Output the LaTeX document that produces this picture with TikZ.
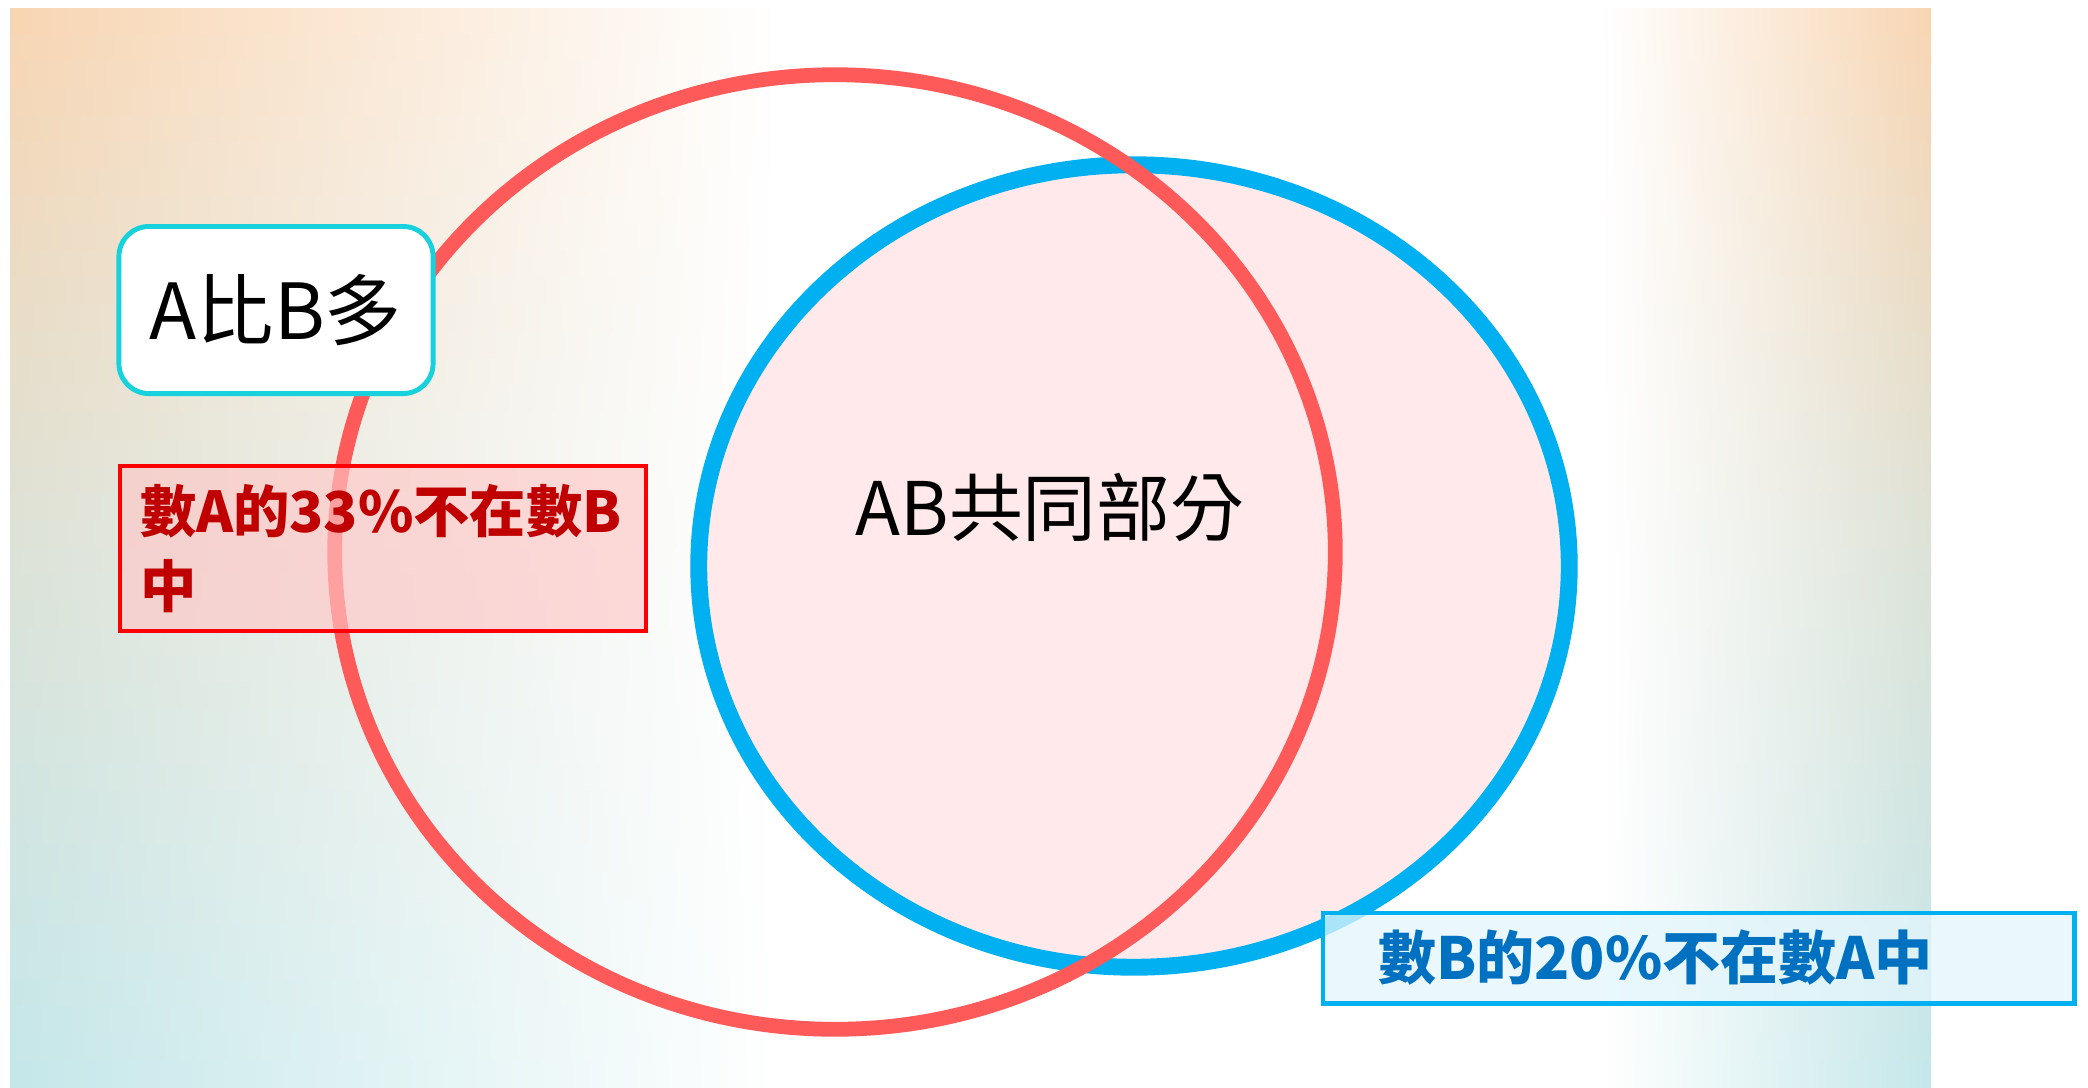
\documentclass[tikz,border=0pt]{standalone}
\usepackage{fontspec}
\setmainfont{Noto Sans CJK TC}
\usetikzlibrary{shapes}

\definecolor{bgtop}{HTML}{F8D5B2}
\definecolor{bgmid}{HTML}{DCE2D7}
\definecolor{bgbot}{HTML}{C4E7EA}
\definecolor{ringA}{HTML}{FF5A5A}
\definecolor{ringB}{HTML}{00B0F0}
\definecolor{shared}{HTML}{FFE9EA}
\definecolor{tagline}{HTML}{17D2DC}
\definecolor{onlyAtext}{HTML}{C00000}
\definecolor{onlyBtext}{HTML}{0070C0}

\begin{document}
\begin{tikzpicture}[x=0.01cm,y=-0.01cm,
  set/.style={ellipse,inner sep=0pt,outer sep=0pt},
  note/.style={rectangle,outer sep=0pt,text opacity=1,align=left,font=\bfseries}]
\useasboundingbox (0,0) rectangle (2088,1087);
% background
\fill[white] (0,0) rectangle (2088,1087);
\foreach \i in {0,...,39}{
  \pgfmathsetmacro{\ya}{8+\i*26.975}
  \pgfmathsetmacro{\yb}{min(\ya+28,1087)}
  \pgfmathtruncatemacro{\p}{(\i+0.5)*5}
  \ifnum\p<100 \colorlet{bgnow}{bgmid!\p!bgtop}\else
    \pgfmathtruncatemacro{\q}{\p-100}\colorlet{bgnow}{bgbot!\q!bgmid}\fi
  \shade[left color=bgnow,right color=white] (10,\ya) rectangle (780,\yb);
  \shade[left color=white,right color=bgnow] (1600,\ya) rectangle (1931,\yb);
}

% the two sets
\node[set,draw=ringB,line width=4.8pt,fill=shared,minimum width=8.7cm,minimum height=8.02cm] (B) at (1134,566) {};
\node[set,draw=ringA,line width=4.2pt,minimum width=10cm,minimum height=9.54cm] (A) at (835,552) {};
\node[font=\fontsize{21pt}{25pt}\selectfont] (common) at (1050,507) {AB共同部分};

% labels
\node[draw=tagline,line width=1.4pt,fill=white,rounded corners=0.3cm,outer sep=0pt,
      minimum width=3.14cm,minimum height=1.67cm,font=\fontsize{22pt}{26pt}\selectfont] (more) at (276,310) {A比B多};
\node[note,draw=red,line width=1.1pt,fill=red!22,fill opacity=0.65,anchor=north west,
      text width=4.86cm,inner xsep=0.2cm,inner ysep=0.1cm,minimum height=1.65cm,
      text=onlyAtext,font=\bfseries\fontsize{16pt}{21.5pt}\selectfont] (onlyA) at (120,466) {數A的33\%不在數B\\中};
\node[note,draw=ringB,line width=1.4pt,fill=cyan!11,fill opacity=0.75,anchor=north west,
      text width=6.41cm,inner xsep=0.55cm,inner ysep=0pt,minimum height=0.9cm,
      text=onlyBtext,font=\bfseries\fontsize{16.5pt}{21pt}\selectfont] (onlyB) at (1323,913) {數B的20\%不在數A中};
\end{tikzpicture}
\end{document}
